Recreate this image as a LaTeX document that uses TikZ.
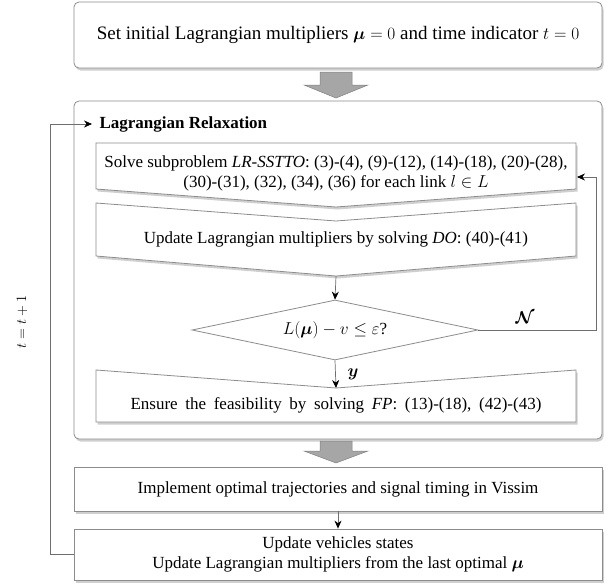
\documentclass[tikz,border=0pt]{standalone}
\usepackage{amsmath,amssymb}
\usepackage{bm}
\usepackage{fontspec}
\setmainfont{Liberation Serif}
\usepackage{tikz}
\usetikzlibrary{shapes.geometric,shadows,arrows.meta}
\definecolor{boxline}{HTML}{8C8C8C}
\definecolor{shade}{HTML}{A0A0A0}
\definecolor{fatgray}{HTML}{A6A6A6}
\definecolor{linkgray}{HTML}{6E6E6E}

\begin{document}
\begin{tikzpicture}[x=1pt,y=-1pt,
  box/.style={draw=boxline,fill=white,line width=0.8pt,
    drop shadow={shadow xshift=1.5pt,shadow yshift=-2.5pt,fill=shade}},
  roundbox/.style={box,rounded corners=5pt,inner sep=0pt},
  txt/.style={font=\fontsize{17}{20}\selectfont,align=center},
  link/.style={draw=linkgray,line width=0.7pt,-{Stealth[length=8pt,width=7pt,black]}},
  decision/.style={diamond,aspect=4.77,draw=boxline,fill=white,line width=0.8pt,inner sep=0pt,
    minimum width=286pt,minimum height=60pt},
  fatarrow/.style={fill=fatgray,draw=gray,line width=0.5pt}]
\useasboundingbox (0,0) rectangle (610,587);
% initialisation
\node[roundbox,txt,font=\fontsize{19}{22}\selectfont,minimum width=528pt,minimum height=66pt] (init) at (338,35)
  {Set initial Lagrangian multipliers $\bm{\mu}=0$ and time indicator $t=0$};
\path[fatarrow] (320,72) -- (352,72) -- (352,85) -- (368,85) -- (336,98) -- (304,85) -- (320,85) -- cycle;
% Lagrangian relaxation frame
\node[roundbox,minimum width=528pt,minimum height=338pt] (lrframe) at (338,270) {};
\node[anchor=west,font=\fontsize{17}{20}\selectfont\bfseries] (lrlabel) at (96,124) {Lagrangian Relaxation};
% subproblem
\path[box] (96,143) -- (576,143) -- (576,189) -- (336,207) -- (96,189) -- cycle;
\node[txt] (solve) at (336,173) {Solve subproblem \textit{LR-SSTTO}: (3)-(4), (9)-(12), (14)-(18), (20)-(28),\\
  (30)-(31), (32), (34), (36) for each link $l\in L$};
\coordinate (solvein) at (577,177);
% dual problem
\path[box] (96,203) -- (336,221) -- (576,203) -- (576,256) -- (336,276) -- (96,256) -- cycle;
\node[txt] (dual) at (336,239) {Update Lagrangian multipliers by solving \textit{DO}: (40)-(41)};
\coordinate (dualout) at (336,276);
% stopping test
\node[decision,txt] (check) at (335,330) {$L(\bm{\mu})-v\le\varepsilon$?};
% feasibility
\path[box] (96,370) -- (336,388) -- (576,370) -- (576,422) -- (96,422) -- cycle;
\node[txt] (feas) at (336,405) {\spaceskip=0.45em\relax Ensure the feasibility by solving \textit{FP}: (13)-(18), (42)-(43)};
\coordinate (feasin) at (336,388);
\path[fatarrow] (320,441) -- (352,441) -- (352,451) -- (368,451) -- (336,463) -- (304,451) -- (320,451) -- cycle;
% simulation
\node[roundbox,txt,rounded corners=0pt,minimum width=528pt,minimum height=44pt] (impl) at (338,489)
  {Implement optimal trajectories and signal timing in Vissim};
\node[roundbox,txt,rounded corners=0pt,minimum width=528pt,minimum height=51pt] (upd) at (338,554.5)
  {Update vehicles states\\ Update Lagrangian multipliers from the last optimal $\bm{\mu}$};
% connectors
\draw[link] (dualout) -- (check.north);
\draw[link] (check.south) -- (feasin);
\node[font=\fontsize{17}{20}\selectfont] (yes) at (353,374) {$\bm{y}$};
\draw[link] (check.east) -- ++(118,0) |- (solvein);
\node[font=\fontsize{17}{20}\selectfont] (no) at (525,318) {$\bm{\mathcal{N}}$};
\draw[link] (impl.south) -- (upd.north);
\draw[link] (upd.west) -- ++(-23,0) |- ([xshift=-4pt]lrlabel.west);
\node[rotate=90,font=\fontsize{15}{18}\selectfont] (tstep) at (22,322) {$t=t+1$};
\end{tikzpicture}
\end{document}
